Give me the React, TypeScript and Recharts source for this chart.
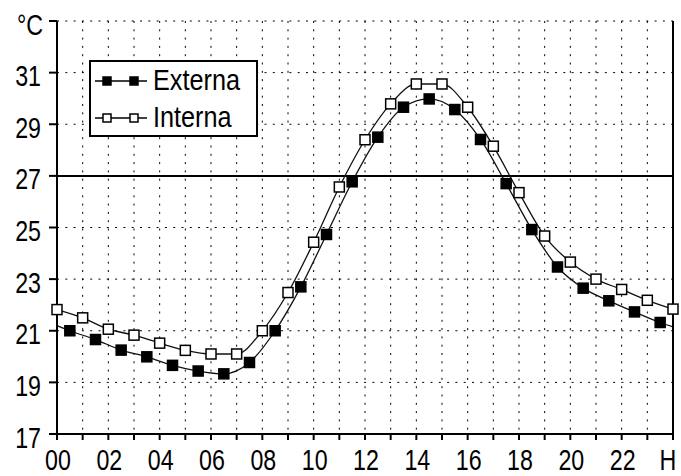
import React from 'react';
import {
  LineChart,
  Line,
  XAxis,
  YAxis,
  CartesianGrid,
  ReferenceLine,
  Legend,
} from 'recharts';

const FONT = "'Liberation Sans', Arial, sans-serif";
const FONT_SIZE = 29;
const SQUEEZE = 0.8;

const INTERNA_HOURS = [0, 1, 2, 3, 4, 5, 6, 7, 8, 9, 10, 11, 12, 13, 14, 15, 16, 17, 18, 19, 20, 21, 22, 23, 24];
const INTERNA = [
  21.82, 21.5, 21.06, 20.83, 20.52, 20.24, 20.1, 20.1, 21.0, 22.48, 24.43, 26.57, 28.4,
  29.79, 30.56, 30.56, 29.66, 28.15, 26.35, 24.67, 23.66, 23.0, 22.6, 22.18, 21.84,
];

// first and last entries are the curve ends at the axes (no marker)
const EXTERNA_HOURS = [
  0, 0.5, 1.5, 2.5, 3.5, 4.5, 5.5, 6.5, 7.5, 8.5, 9.5, 10.5, 11.5, 12.5, 13.5, 14.5, 15.5,
  16.5, 17.5, 18.5, 19.5, 20.5, 21.5, 22.5, 23.5, 24,
];
const EXTERNA = [
  21.2, 21.0, 20.66, 20.25, 19.99, 19.66, 19.44, 19.33, 19.77, 21.0, 22.7, 24.73, 26.77, 28.5,
  29.66, 29.98, 29.57, 28.41, 26.7, 24.92, 23.47, 22.65, 22.16, 21.73, 21.32, 21.15,
];

const X_TICKS = [0, 1, 2, 3, 4, 5, 6, 7, 8, 9, 10, 11, 12, 13, 14, 15, 16, 17, 18, 19, 20, 21, 22, 23, 24];
const Y_TICKS = [17, 19, 21, 23, 25, 27, 29, 31, 33];

const hours = Array.from(new Set([...INTERNA_HOURS, ...EXTERNA_HOURS])).sort((a, b) => a - b);
const data = hours.map((h) => {
  const i = INTERNA_HOURS.indexOf(h);
  const e = EXTERNA_HOURS.indexOf(h);
  return {
    h,
    interna: i >= 0 ? INTERNA[i] : null,
    externa: e >= 0 ? EXTERNA[e] : null,
  };
});

const formatX = (v: number) => {
  if (v === 24) return 'H';
  if (v % 2 !== 0) return '';
  return String(v).padStart(2, '0');
};

const formatY = (v: number) => (v === 33 ? '°C' : String(v));

// narrow bitmap-like look: squeeze the text horizontally
const XTick = ({ x, y, payload }: any) => {
  const label = formatX(payload.value);
  if (!label) return <g />;
  const shift = payload.value === 24 ? -5 : 1;
  return (
    <g transform={`translate(${x + shift},${y})`}>
      <text
        transform={`scale(${SQUEEZE},1)`}
        textAnchor="middle"
        dy={30}
        fontFamily={FONT}
        fontSize={FONT_SIZE}
        fill="#000"
      >
        {label}
      </text>
    </g>
  );
};

const YTick = ({ x, y, payload }: any) => (
  <g transform={`translate(${x + (payload.value === 33 ? 2 : 0)},${y})`}>
    <text
      transform={`scale(${SQUEEZE},1)`}
      textAnchor="end"
      dy={13.5}
      fontFamily={FONT}
      fontSize={FONT_SIZE}
      fill="#000"
    >
      {formatY(payload.value)}
    </text>
  </g>
);

const squareDot = (filled: boolean, skipEnds: boolean) => (props: any) => {
  const { cx, cy, payload, index } = props;
  if (cx == null || cy == null || (skipEnds && (payload.h === 0 || payload.h === 24))) {
    return <g key={index} />;
  }
  return (
    <rect
      key={index}
      x={cx - 5}
      y={cy - 5}
      width={10}
      height={10}
      fill={filled ? '#000' : '#fff'}
      stroke="#000"
      strokeWidth={1.5}
    />
  );
};

const LegendBox = () => {
  const rows = [
    { name: 'Externa', filled: true },
    { name: 'Interna', filled: false },
  ];
  return (
    <div
      style={{
        width: 169,
        height: 77,
        boxSizing: 'border-box',
        border: '2px solid #000',
        background: '#fff',
        padding: '0 0 0 4px',
      }}
    >
      {rows.map((r) => (
        <div key={r.name} style={{ display: 'flex', alignItems: 'center', height: 37 }}>
          <svg width={52} height={14} style={{ marginRight: 6, flex: 'none' }}>
            <line x1={0} y1={7} x2={52} y2={7} stroke="#000" strokeWidth={1.5} />
            <rect x={8} y={3} width={8} height={8} fill={r.filled ? '#000' : '#fff'} stroke="#000" strokeWidth={1.5} />
            <rect x={35} y={3} width={8} height={8} fill={r.filled ? '#000' : '#fff'} stroke="#000" strokeWidth={1.5} />
          </svg>
          <span
            style={{
              display: 'inline-block',
              fontFamily: FONT,
              fontSize: FONT_SIZE,
              lineHeight: 1,
              color: '#000',
              transform: 'scaleX(0.87)',
              transformOrigin: 'left center',
              whiteSpace: 'nowrap',
            }}
          >
            {r.name}
          </span>
        </div>
      ))}
    </div>
  );
};

export default function App() {
  return (
    <div>
      <style>{'body{margin:0;background:#fff}'}</style>
      <LineChart width={681} height={476} data={data} margin={{ top: 21, right: 0, bottom: 0, left: 0 }}>
        <CartesianGrid stroke="#000" strokeDasharray="2 6.3" />
        <XAxis
          dataKey="h"
          type="number"
          domain={[0, 24]}
          ticks={X_TICKS}
          interval={0}
          tick={<XTick />}
          tickSize={6}
          tickMargin={0}
          height={42}
          stroke="#000"
          strokeWidth={2}
        />
        <XAxis
          xAxisId="top"
          orientation="top"
          dataKey="h"
          type="number"
          domain={[0, 24]}
          ticks={X_TICKS}
          interval={0}
          tick={false}
          tickSize={6}
          height={0}
          stroke="#000"
          strokeWidth={2}
        />
        <YAxis
          type="number"
          domain={[17, 33]}
          ticks={Y_TICKS}
          interval={0}
          tick={<YTick />}
          tickSize={8}
          tickMargin={8}
          width={57}
          stroke="#000"
          strokeWidth={2}
        />
        <YAxis
          yAxisId="right"
          orientation="right"
          type="number"
          domain={[17, 33]}
          ticks={Y_TICKS}
          interval={0}
          tick={false}
          tickSize={5}
          width={8}
          stroke="#000"
          strokeWidth={2}
        />
        <ReferenceLine y={27} stroke="#000" strokeWidth={2} />
        <Legend
          layout="vertical"
          align="center"
          verticalAlign="middle"
          content={<LegendBox />}
          wrapperStyle={{ left: 89, top: 60, width: 169, height: 77 }}
        />
        <Line
          dataKey="externa"
          type="monotone"
          stroke="#111"
          strokeWidth={1.3}
          connectNulls
          dot={squareDot(true, true)}
          activeDot={false}
          isAnimationActive={false}
        />
        <Line
          dataKey="interna"
          type="monotone"
          stroke="#111"
          strokeWidth={1.3}
          connectNulls
          dot={squareDot(false, false)}
          activeDot={false}
          isAnimationActive={false}
        />
      </LineChart>
    </div>
  );
}
